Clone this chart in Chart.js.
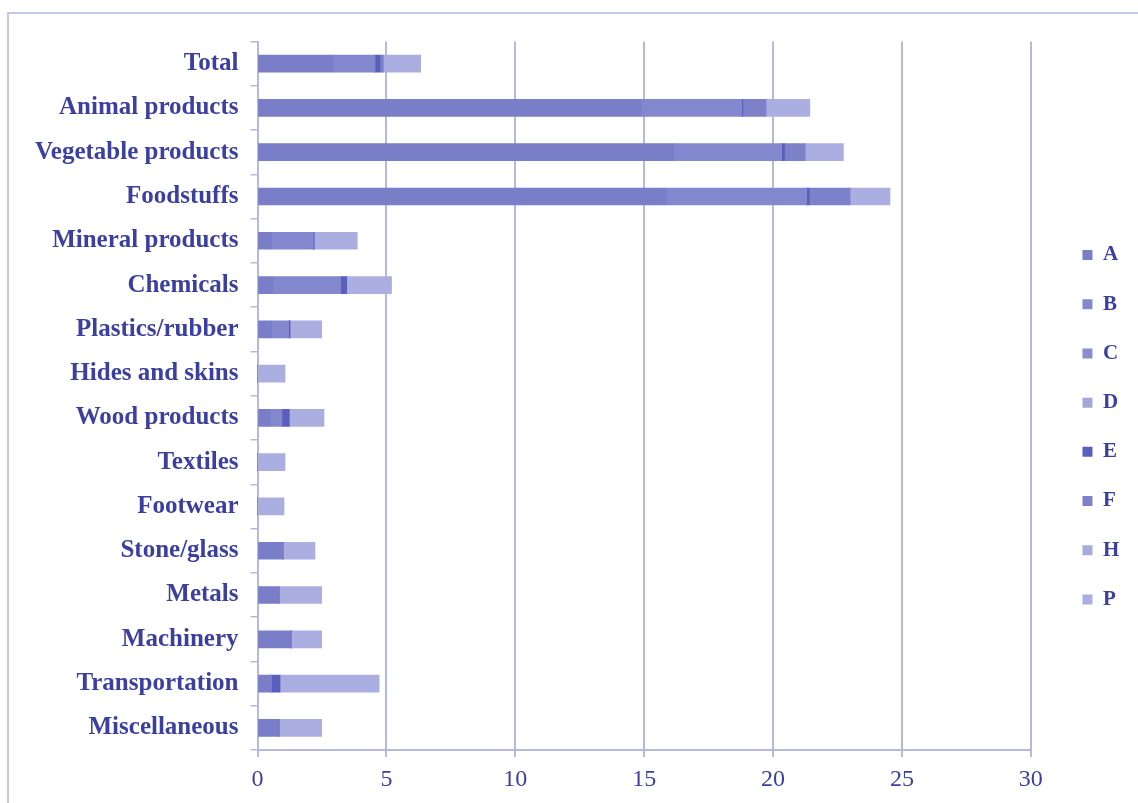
<!DOCTYPE html>
<html>
<head>
<meta charset="utf-8">
<script src="https://cdn.jsdelivr.net/npm/chart.js@4.4.0/dist/chart.umd.min.js"></script>
<style>
  html, body { margin: 0; padding: 0; background: #fff; overflow: hidden; }
  #wrap { position: relative; width: 1138px; height: 803px; }
  #frame { position: absolute; left: 7px; top: 12px; width: 1300px; height: 1000px;
           border: 2px solid #c6c7e6; box-sizing: border-box; }
  canvas { position: absolute; left: 0; top: 0; }
</style>
</head>
<body>
<div id="wrap">
  <div id="frame"></div>
  <canvas id="myChart" width="1138" height="803"></canvas>
</div>
<script>
// categories, top to bottom
let sectors = ['Total', 'Animal products', 'Vegetable products', 'Foodstuffs', 'Mineral products',
  'Chemicals', 'Plastics/rubber', 'Hides and skins', 'Wood products', 'Textiles', 'Footwear',
  'Stone/glass', 'Metals', 'Machinery', 'Transportation', 'Miscellaneous'];

// one array per series, same order as sectors
let valA = [2.95, 14.9, 16.15, 15.86, 0.55, 0.6, 0.55, 0, 0.5, 0, 0, 1.0, 0.85, 1.32, 0.55, 0.85];
let valB = [1.6, 3.87, 4.17, 5.43, 1.6, 2.62, 0.66, 0, 0.44, 0, 0, 0, 0, 0, 0, 0];
let valC = [0, 0, 0, 0, 0, 0, 0, 0, 0, 0, 0, 0, 0, 0, 0, 0];
let valD = [0, 0, 0, 0, 0, 0, 0, 0, 0, 0, 0, 0, 0, 0, 0, 0];
let valE = [0.2, 0.06, 0.13, 0.12, 0.05, 0.24, 0.05, 0, 0.29, 0, 0, 0, 0, 0, 0.32, 0];
let valF = [0.13, 0.9, 0.8, 1.58, 0, 0, 0, 0, 0, 0, 0, 0, 0, 0, 0, 0];
let valH = [0, 0, 0, 0, 0, 0, 0, 0, 0, 0, 0, 0, 0, 0, 0, 0];
let valP = [1.45, 1.7, 1.48, 1.55, 1.67, 1.74, 1.23, 1.07, 1.35, 1.07, 1.03, 1.23, 1.64, 1.17, 3.85, 1.64];

let seriesNames = ['A', 'B', 'C', 'D', 'E', 'F', 'H', 'P'];
let xTicks = [0, 5, 10, 15, 20, 25, 30];

let seriesValues = [valA, valB, valC, valD, valE, valF, valH, valP];
let seriesColors = ['#7a7ec8', '#8387cd', '#8a8ed1', '#a4a7db', '#5a5fbd', '#7d81ca', '#a7aadd', '#abaee0'];

let textColor = '#3b3f9f';
let gridColor = '#b6b8e0';
let serif = "'Liberation Serif', 'Times New Roman', serif";

// nudges the legend to where the reference has it
const LEGEND_DX = 23.5;
const LEGEND_DY = 9;
const legendShift = {
  id: 'legendShift',
  afterLayout(chart) {
    const lg = chart.legend;
    if (!lg) return;
    lg.left += LEGEND_DX; lg.right += LEGEND_DX;
    lg.top += LEGEND_DY; lg.bottom += LEGEND_DY;
  }
};

let datasets = seriesNames.map(function (name, i) {
  return {
    label: name,
    data: seriesValues[i],
    backgroundColor: seriesColors[i],
    borderWidth: 0,
    barThickness: 17
  };
});

var ctx = document.getElementById('myChart').getContext('2d');

var chart = new Chart(ctx, {
  type: 'bar',
  data: {
    labels: sectors,
    datasets: datasets
  },
  plugins: [legendShift],
  options: {
    indexAxis: 'y',
    responsive: false,
    animation: false,
    layout: { padding: { left: 32.5, top: 41.5, right: 32.2, bottom: 8 } },
    plugins: {
      tooltip: { enabled: false },
      legend: {
        position: 'right',
        labels: {
          boxWidth: 10,
          boxHeight: 10,
          padding: 28.2,
          color: textColor,
          font: { family: serif, size: 21, weight: 'bold' }
        }
      }
    },
    scales: {
      x: {
        stacked: true,
        min: 0,
        max: 30,
        afterBuildTicks: function (scale) {
          scale.ticks = xTicks.map(function (v) { return { value: v }; });
        },
        afterFit: function (scale) { scale.height = 45; },
        ticks: {
          color: textColor,
          padding: 8,
          font: { family: serif, size: 24 }
        },
        grid: { color: gridColor, lineWidth: 2, tickLength: 7 },
        border: { color: gridColor, width: 2 }
      },
      y: {
        stacked: true,
        afterFit: function (scale) { scale.width = 225; },
        ticks: {
          color: textColor,
          padding: 12,
          font: { family: serif, size: 25, weight: 'bold' }
        },
        grid: { offset: true, drawOnChartArea: false, color: gridColor, lineWidth: 1.5, tickLength: 7 },
        border: { color: gridColor, width: 2 }
      }
    }
  }
});
</script>
</body>
</html>
